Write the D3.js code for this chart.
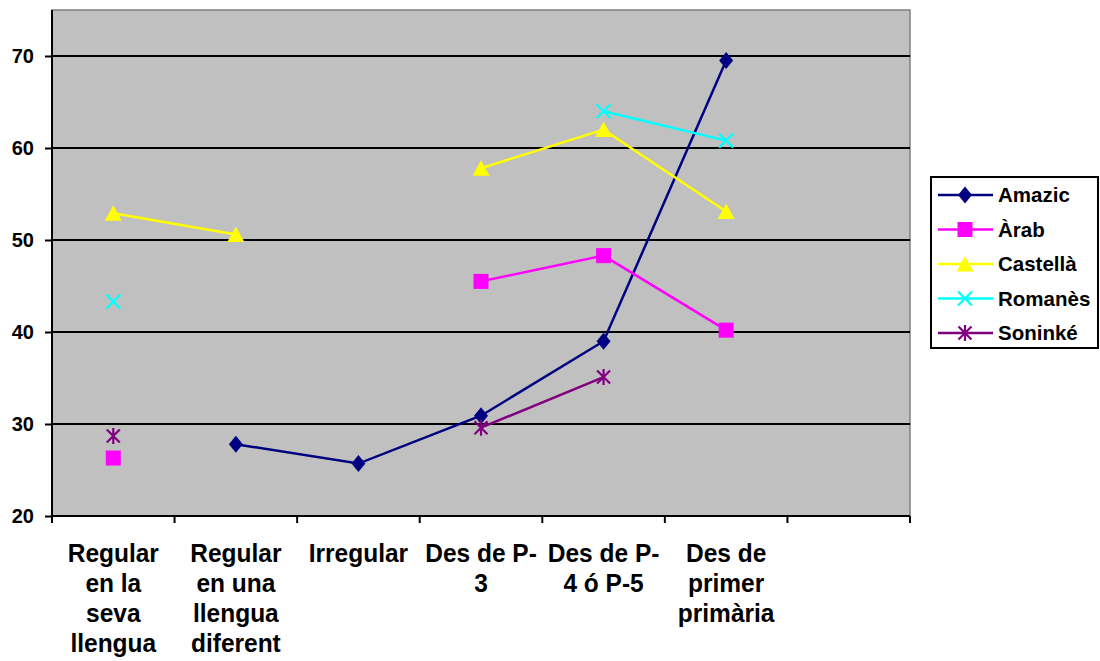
<!DOCTYPE html>
<html>
<head>
<meta charset="utf-8">
<script src="https://cdn.jsdelivr.net/npm/d3@7"></script>
<style>
  body { margin: 0; background: #fff; }
  svg text { font-family: Arial, "Liberation Sans", sans-serif; font-weight: bold; }
</style>
</head>
<body>
<svg id="chart" width="1100" height="661"></svg>
<script>
// categories (last slot empty, as in the original)
const categories = [
  ['Regular', 'en la', 'seva', 'llengua'],
  ['Regular', 'en una', 'llengua', 'diferent'],
  ['Irregular'],
  ['Des de P-', '3'],
  ['Des de P-', '4 ó P-5'],
  ['Des de', 'primer', 'primària'],
  []
];
const yTicks = [20, 30, 40, 50, 60, 70];

const amazic   = [null, 27.8, 25.7, 30.9, 39.0, 69.5, null];
const arab     = [26.3, null, null, 45.5, 48.3, 40.2, null];
const castella = [52.9, 50.6, null, 57.8, 62.0, 53.1, null];
const romanes  = [43.3, null, null, null, 64.0, 60.8, null];
const soninke  = [28.7, null, null, 29.6, 35.1, null, null];

const seriesNames  = ['Amazic', 'Àrab', 'Castellà', 'Romanès', 'Soninké'];
const seriesValues = [amazic, arab, castella, romanes, soninke];
const seriesColors = ['#000080', '#ff00ff', '#ffff00', '#00ffff', '#800080'];
const seriesMarks  = ['diamond', 'square', 'triangle', 'cross', 'asterisk'];

const margin = { top: 10, left: 52 };
const svg = d3.select('#chart');
const width = 910 - margin.left;
const height = 516 - margin.top;

const g = svg.append('g')
  .attr('transform', `translate(${margin.left}, ${margin.top})`);

const x = d3.scaleBand()
  .domain(d3.range(categories.length))
  .range([0, width]);

const y = d3.scaleLinear()
  .domain([20, 75])
  .range([height, 0]);

// plot background
g.append('rect')
  .attr('width', width)
  .attr('height', height)
  .attr('fill', '#c0c0c0')
  .attr('stroke', '#808080')
  .attr('stroke-width', 1.5);

// grid lines
g.selectAll('.grid')
  .data(yTicks.slice(1))
  .enter()
  .append('line')
  .attr('x1', 0)
  .attr('x2', width)
  .attr('y1', (d) => y(d))
  .attr('y2', (d) => y(d))
  .attr('stroke', '#000')
  .attr('stroke-width', 2);

// y axis (labels drawn separately so the bold font sticks)
const yAxis = g.append('g')
  .call(d3.axisLeft(y).tickValues(yTicks).tickSize(7).tickFormat(''));
yAxis.select('.domain').attr('stroke-width', 2).attr('d', `M0,${height}V0`);
yAxis.selectAll('.tick line').attr('stroke-width', 2);

g.selectAll('.y-label')
  .data(yTicks)
  .enter()
  .append('text')
  .attr('class', 'y-label')
  .attr('x', -18)
  .attr('y', (d) => y(d))
  .attr('dy', '0.36em')
  .attr('text-anchor', 'end')
  .attr('font-size', 20)
  .attr('fill', '#000')
  .text((d) => d);

// x axis
const xAxis = g.append('g')
  .attr('transform', `translate(0, ${height})`)
  .call(d3.axisBottom(x).tickSize(0).tickFormat(''));
xAxis.select('.domain').attr('stroke-width', 2).attr('d', `M0,0H${width}`);
xAxis.selectAll('.tick').remove();
xAxis.selectAll('.xtick')
  .data(d3.range(categories.length + 1))
  .enter()
  .append('line')
  .attr('x1', (d) => d * x.bandwidth())
  .attr('x2', (d) => d * x.bandwidth())
  .attr('y1', 0)
  .attr('y2', 7)
  .attr('stroke', '#000')
  .attr('stroke-width', 2);

// category labels
const labels = g.selectAll('.cat-label')
  .data(categories)
  .enter()
  .append('text')
  .attr('text-anchor', 'middle')
  .attr('font-size', 24.5)
  .attr('transform', (d, i) => `translate(${x(i) + x.bandwidth() / 2}, ${height + 46}) scale(1, 1.08)`);
labels.selectAll('tspan')
  .data((d) => d)
  .enter()
  .append('tspan')
  .attr('x', 0)
  .attr('y', (d, i) => i * 27.8)
  .text((d) => d);

const markerPath = {
  diamond: 'M0,-8.5L7,0L0,8.5L-7,0Z',
  square: 'M-7.5,-7.5H7.5V7.5H-7.5Z',
  triangle: 'M0,-8L8.5,7.5H-8.5Z',
  cross: 'M-7,-7L7,7M-7,7L7,-7',
  asterisk: 'M0,-8V8M-6.5,-6.5L6.5,6.5M-6.5,6.5L6.5,-6.5'
};

const markStyle = (sel, kind, color) => {
  if (kind === 'cross' || kind === 'asterisk') {
    sel.attr('fill', 'none').attr('stroke', color).attr('stroke-width', 2.2);
  } else {
    sel.attr('fill', color).attr('stroke', 'none');
  }
};

const line = d3.line()
  .defined((d) => d !== null)
  .x((d, i) => x(i) + x.bandwidth() / 2)
  .y((d) => y(d));

seriesValues.forEach((vals, si) => {
  g.append('path')
    .datum(vals)
    .attr('fill', 'none')
    .attr('stroke', seriesColors[si])
    .attr('stroke-width', 2.5)
    .attr('d', line);

  const pts = g.selectAll(`.pt-${si}`)
    .data(vals.map((v, i) => ({ v, i })).filter((d) => d.v !== null))
    .enter()
    .append('path')
    .attr('transform', (d) => `translate(${x(d.i) + x.bandwidth() / 2}, ${y(d.v)})`)
    .attr('d', markerPath[seriesMarks[si]]);
  markStyle(pts, seriesMarks[si], seriesColors[si]);
});

// legend
const legend = svg.append('g').attr('transform', 'translate(931, 177)');
legend.append('rect')
  .attr('width', 167)
  .attr('height', 171)
  .attr('fill', '#fff')
  .attr('stroke', '#000')
  .attr('stroke-width', 2);

seriesNames.forEach((name, si) => {
  const row = legend.append('g').attr('transform', `translate(0, ${18 + si * 34.5})`);
  row.append('line')
    .attr('x1', 7)
    .attr('x2', 62)
    .attr('stroke', seriesColors[si])
    .attr('stroke-width', 2.5);
  const m = row.append('path')
    .attr('transform', 'translate(34, 0)')
    .attr('d', markerPath[seriesMarks[si]]);
  markStyle(m, seriesMarks[si], seriesColors[si]);
  row.append('text')
    .attr('x', 67)
    .attr('dy', '0.36em')
    .attr('font-size', 20.5)
    .text(name);
});
</script>
</body>
</html>
